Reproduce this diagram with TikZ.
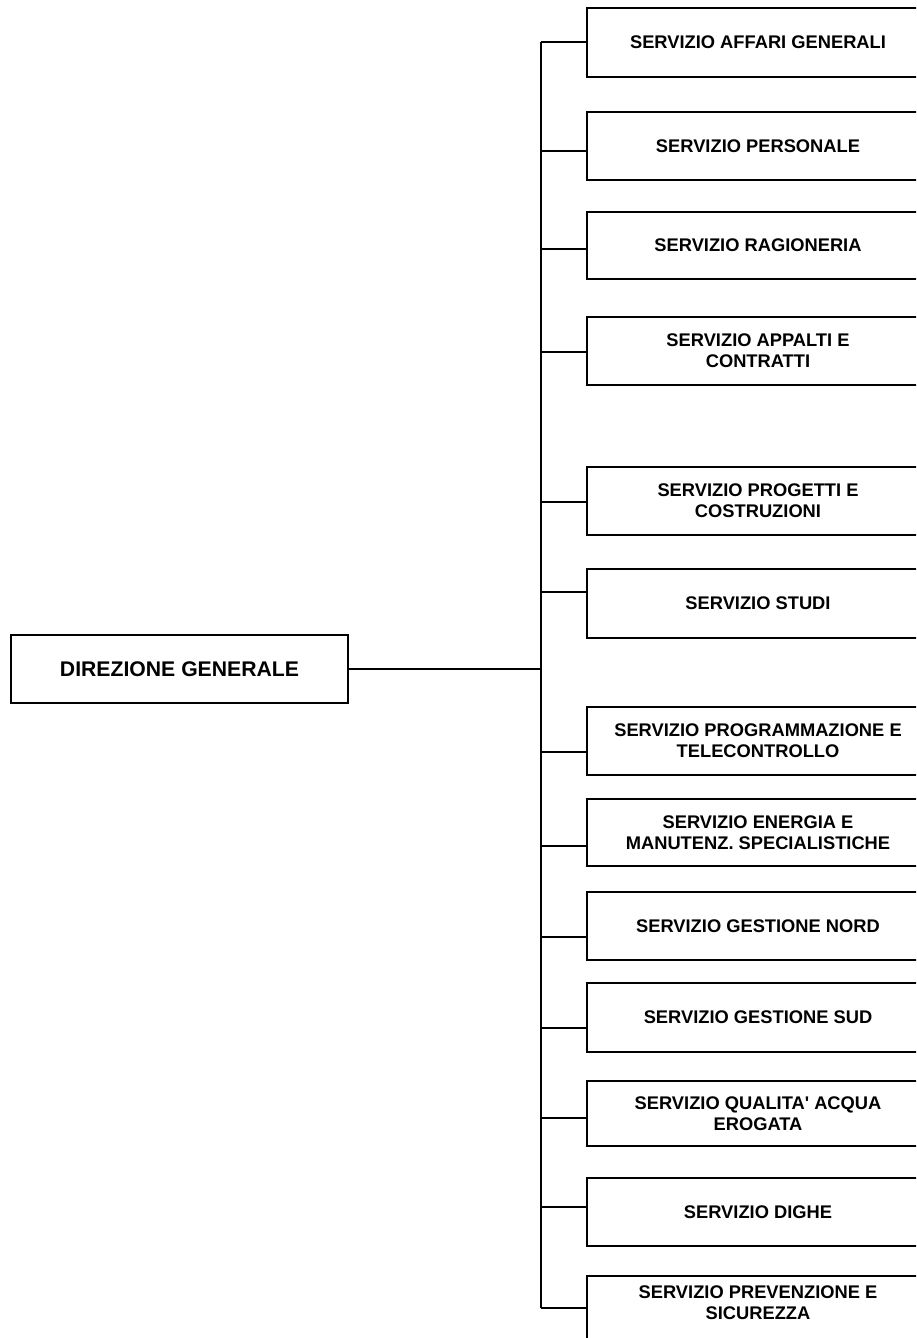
\documentclass[tikz,border=0pt]{standalone}
\usepackage{fontspec}
\setmainfont{Liberation Sans}
\begin{document}
\begin{tikzpicture}[x=1pt,y=-1pt,
  line width=1.8pt,
  box/.style={draw, rectangle, align=center, inner sep=0pt,
    font=\bfseries\fontsize{18.3}{21}\selectfont},
  svc/.style={box, minimum width=342pt, minimum height=68pt},
  conn/.style={draw, line width=1.8pt}]
\path[use as bounding box, clip] (0,0) rectangle (916,1338);
\fill[white] (0,0) rectangle (916,1338);

\node[box, minimum width=337pt, minimum height=68pt, font=\bfseries\fontsize{21.2}{24}\selectfont] (dg) at (179.5,669) {DIREZIONE GENERALE};

\node[svc, minimum height=69pt] (s1) at (758,42.5) {SERVIZIO AFFARI GENERALI};
\node[svc] (s2) at (758,146) {SERVIZIO PERSONALE};
\node[svc, minimum height=67pt] (s3) at (758,245.5) {SERVIZIO RAGIONERIA};
\node[svc] (s4) at (758,351) {SERVIZIO APPALTI E\\CONTRATTI};
\node[svc] (s5) at (758,501) {SERVIZIO PROGETTI E\\COSTRUZIONI};
\node[svc, minimum height=69pt] (s6) at (758,603.5) {SERVIZIO STUDI};
\node[svc] (s7) at (758,741) {SERVIZIO PROGRAMMAZIONE E\\TELECONTROLLO};
\node[svc, minimum height=67pt] (s8) at (758,832.5) {SERVIZIO ENERGIA E\\MANUTENZ. SPECIALISTICHE};
\node[svc] (s9) at (758,926) {SERVIZIO GESTIONE NORD};
\node[svc, minimum height=69pt] (s10) at (758,1017.5) {SERVIZIO GESTIONE SUD};
\node[svc, minimum height=65pt] (s11) at (758,1113.5) {SERVIZIO QUALITA\textquotesingle{} ACQUA\\EROGATA};
\node[svc] (s12) at (758,1212) {SERVIZIO DIGHE};
\node[svc, text depth=14pt] (s13) at (758,1310) {SERVIZIO PREVENZIONE E\\SICUREZZA};

\coordinate (c1) at (541,42);
\coordinate (c2) at (541,151);
\coordinate (c3) at (541,249);
\coordinate (c4) at (541,352);
\coordinate (c5) at (541,502);
\coordinate (c6) at (541,592);
\coordinate (c7) at (541,752);
\coordinate (c8) at (541,846);
\coordinate (c9) at (541,937);
\coordinate (c10) at (541,1028);
\coordinate (c11) at (541,1118);
\coordinate (c12) at (541,1207);
\coordinate (c13) at (541,1308);
\coordinate (cd) at (541,669);

\draw[conn] (c1) -- (c13);
\draw[conn] (dg.east |- cd) -- (cd);
\foreach \i in {1,...,13}{
  \draw[conn] (c\i) -- (c\i -| s\i.west);
}
\end{tikzpicture}
\end{document}
